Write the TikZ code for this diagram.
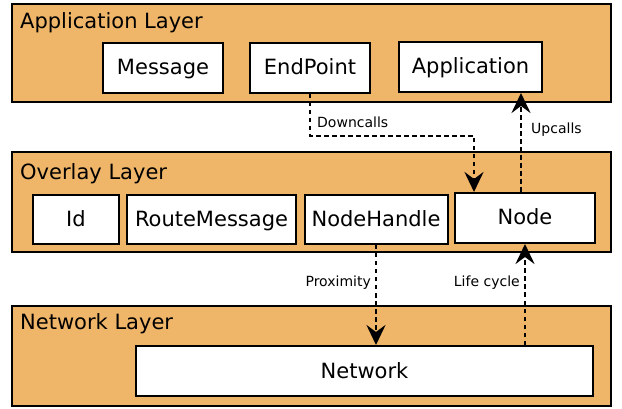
\documentclass[tikz,border=0pt]{standalone}
\usepackage{fontspec}
\setmainfont{DejaVu Sans}
\usetikzlibrary{arrows.meta}
\definecolor{layerfill}{RGB}{239,181,105}
\begin{document}
\begin{tikzpicture}[x=1pt,y=-1pt,
	   layer/.style={draw,line width=2pt,fill=layerfill,minimum width=599pt,inner sep=0pt},
	   box/.style={draw,line width=2pt,fill=white,font=\fontsize{21}{24}\selectfont,inner sep=0pt,text height=16pt,text depth=2pt},
	   ltext/.style={font=\fontsize{21}{24}\selectfont,anchor=base west,inner sep=0pt},
	   call/.style={line width=2.8pt,dash pattern=on 4.5pt off 3.5pt,-{Stealth[length=20pt,width=19pt,inset=7pt]}},
	   small/.style={font=\fontsize{14}{16}\selectfont,inner sep=0pt}]
	   \useasboundingbox (0,0) rectangle (622,409);
	   % layers
	   \node[layer,minimum height=98pt](applayer) at (311.5,53){};
	   \node[layer,minimum height=100pt](ovllayer) at (311.5,202){};
	   \node[layer,minimum height=100pt](netlayer) at (311.5,356){};
	   \node[ltext](applbl) at (20,29){Application Layer};
	   \node[ltext](ovllbl) at (20,179.5){Overlay Layer};
	   \node[ltext](netlbl) at (20,330){Network Layer};
	   % application layer
	   \node[box,minimum width=120pt,minimum height=50pt](msg) at (163,68){Message};
	   \node[box,minimum width=120pt,minimum height=50pt](ep) at (310,68){EndPoint};
	   \node[box,minimum width=143pt,minimum height=50pt](app) at (470.5,67){Application};
	   % overlay layer
	   \node[box,minimum width=86pt,minimum height=49pt](id) at (76,219.5){Id};
	   \node[box,minimum width=169pt,minimum height=49pt](rm) at (211.5,219.5){RouteMessage};
	   \node[box,minimum width=143pt,minimum height=49pt](nh) at (376,219.5){NodeHandle};
	   \node[box,minimum width=140pt,minimum height=50pt](node) at (525,218){Node};
	   % network layer
	   \node[box,minimum width=457pt,minimum height=50pt](net) at (364.5,371){Network};
	   % calls
	   \draw[call](ep.south)--++(0,42)-|([xshift=-51pt]node.north);
	   \draw[call]([xshift=-4pt]node.north)--([xshift=50.5pt]app.south);
	   \draw[call](nh.south)--(nh.south|-net.north);
	   \draw[call](net.north-|node.south)--(node.south);
	   \node[small,anchor=base west](down) at (317,128){Downcalls};
	   \node[small,anchor=base west](up) at (531,134){Upcalls};
	   \node[small,anchor=base east](prox) at (371,287){Proximity};
	   \node[small,anchor=base east](life) at (520,287){Life cycle};
\end{tikzpicture}
\end{document}
